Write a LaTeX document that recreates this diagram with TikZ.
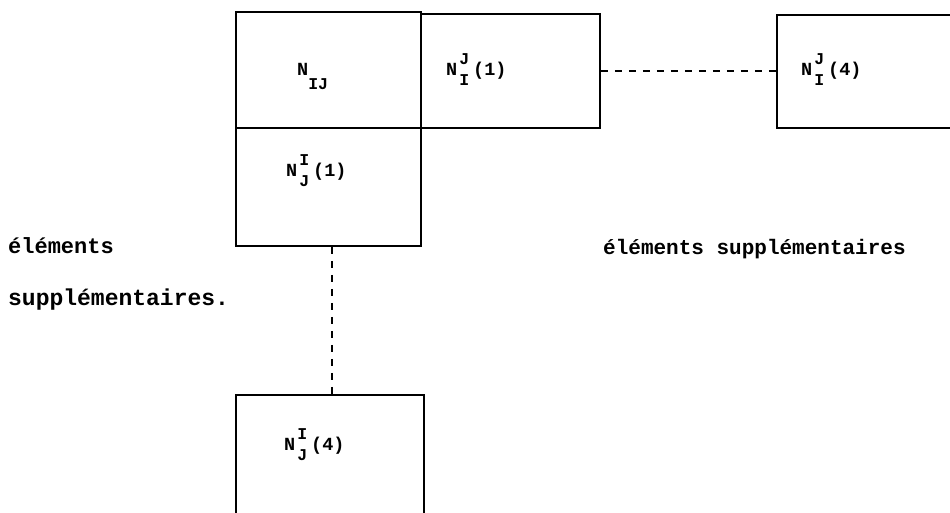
\documentclass[tikz,border=0pt]{standalone}
\usepackage{fontspec}
\setmainfont{Liberation Mono}
% letter with a raised and a lowered index, followed by its argument
\newcommand\ssz{\fontsize{16.5}{18}\selectfont}
\newcommand\nlab[3]{N\hspace{2pt}\rlap{\raisebox{11pt}{\ssz #1}}\raisebox{-10.5pt}{\ssz #2}\hspace{4pt}#3}
\begin{document}
\begin{tikzpicture}[x=1pt,y=-1pt,
  cell/.style={draw,line width=1.6pt,rectangle,inner sep=0pt},
  lbl/.style={font=\fontsize{18.5}{20}\selectfont\bfseries,inner sep=0pt,anchor=base west},
  note/.style={font=\fontsize{22}{25}\selectfont\bfseries,inner sep=0pt,anchor=west},
  link/.style={line width=1.5pt,dash pattern=on 7pt off 7pt}]
\useasboundingbox (0,0) rectangle (950,512);
\clip (0,0) rectangle (950,512);
% blocks of the matrix
\node[cell,minimum width=185pt,minimum height=116pt] (nij) at (328.5,70) {};
\node[cell,minimum width=179pt,minimum height=114pt] (nji1) at (510.5,71) {};
\node[cell,minimum width=185pt,minimum height=118pt] (nij1) at (328.5,187) {};
\node[cell,minimum width=184pt,minimum height=113pt] (nji4) at (869,71.5) {};
\node[cell,minimum width=188pt,minimum height=125pt] (nij4) at (330,457.5) {};
% labels
\node[lbl] (tnij) at (297,75) {N\raisebox{-14pt}{\fontsize{16.5}{18}\selectfont IJ}};
\node[lbl] (tnji1) at (446,75) {\nlab{J}{I}{(1)}};
\node[lbl] (tnji4) at (801,75) {\nlab{J}{I}{(4)}};
\node[lbl] (tnij1) at (286,176) {\nlab{I}{J}{(1)}};
\node[lbl] (tnij4) at (284,450) {\nlab{I}{J}{(4)}};
% dashed continuations
\draw[link] (nji1.east) -- (nji4.west |- nji1.east);
\draw[link] ([xshift=3.5pt]nij1.south) -- ([xshift=3.5pt]nij1.south |- nij4.north);
% side notes
\node[note] (n1) at (8,246) {éléments};
\node[note,font=\fontsize{23}{26}\selectfont\bfseries] (n2) at (8,300) {supplémentaires.};
\node[note,font=\fontsize{21}{24}\selectfont\bfseries] (n3) at (603,249) {éléments supplémentaires};
\end{tikzpicture}
\end{document}
